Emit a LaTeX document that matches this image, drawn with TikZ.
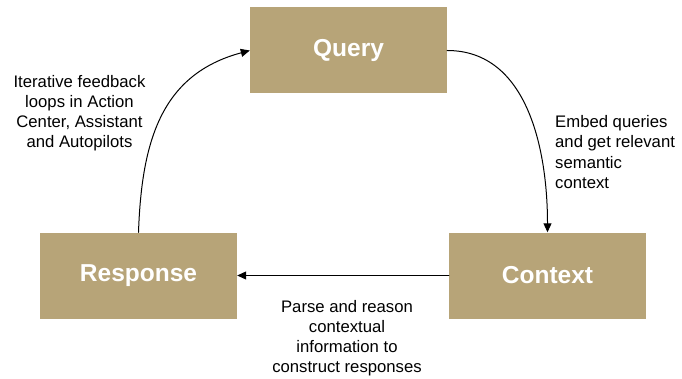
\documentclass[tikz,border=0pt]{standalone}
\usepackage{fontspec}
\setmainfont{Liberation Sans}
\usetikzlibrary{arrows.meta}
\definecolor{tan}{HTML}{B7A478}
\begin{document}
\begin{tikzpicture}[x=1pt, y=1pt, font=\fontsize{16.7}{20.2}\selectfont, line join=round, line cap=round, >={Triangle[length=9pt,width=8pt]},
 stage/.style={fill=tan, text=white, minimum width=197pt, minimum height=86pt, inner sep=0pt, font=\fontsize{24.5}{28}\selectfont\bfseries},
 note/.style={align=center, inner sep=0pt}]
 \useasboundingbox (0,0) rectangle (682,378);
 \node[stage] (query) at (348.5,327.5) {Query};
 \node[stage] (context) at (547.5,102.5) {Context};
 \node[stage] (response) at (138.5,102.5) {Response};
 \begin{scope}[line width=1pt]
 \draw[->] (query.east) to[out=0,in=90] (context.north);
 \draw[->] (context.west) -- (response.east);
 \draw[->] (response.north) to[out=88,in=195,looseness=1.1] (query.west);
 \end{scope}
 \node[note, align=left, anchor=west] (embed) at (555,226) {Embed queries\\and get relevant\\semantic\\context};
 \node[note] (iterate) at (79.5,265) {Iterative feedback\\loops in Action\\Center, Assistant\\and Autopilots};
 \node[note] (parse) at (347,40) {Parse and reason\\contextual\\information to\\construct responses};
\end{tikzpicture}
\end{document}
